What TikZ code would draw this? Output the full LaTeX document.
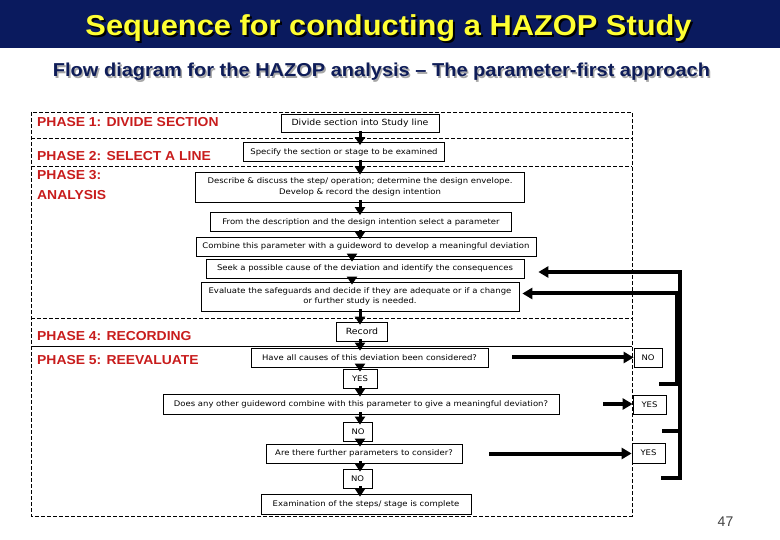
\documentclass[tikz,border=0pt]{standalone}
\usepackage{fontspec}
\setmainfont{Liberation Sans}
\newfontfamily\widefont{Liberation Sans}[FakeStretch=1.07,Ligatures=TeX]
\newfontfamily\boxfont{DejaVu Sans}[FakeStretch=1.1]
\usetikzlibrary{arrows.meta}
\definecolor{navy}{RGB}{10,26,94}
\definecolor{ttlyellow}{RGB}{255,255,50}
\definecolor{phred}{RGB}{200,28,28}
\definecolor{subnavy}{RGB}{14,28,88}
\newcommand\shadtxt[3]{\makebox[0pt][l]{\hspace{#2}\raisebox{-#2}{\textcolor{#1}{#3}}}#3}
\begin{document}
\begin{tikzpicture}[x=1pt,y=-1pt,
  box/.style={draw, line width=0.7pt, fill=white, inner sep=0pt, align=center,
    font=\boxfont\fontsize{7.7}{10.5}\selectfont},
  bigbox/.style={box, font=\boxfont\fontsize{8.5}{10}\selectfont},
  phase/.style={anchor=base west, text=phred, inner sep=0pt,
    font=\widefont\fontsize{13}{15}\selectfont\bfseries},
  divider/.style={dash pattern=on 4pt off 2pt, line width=0.6pt},
  flow/.style={line width=3pt, -{Triangle[width=10pt,length=8pt]},
    shorten <=-2pt, shorten >=-3pt},
  harrow/.style={line width=4pt, -{Triangle[width=11pt,length=10pt]}},
  fb/.style={line width=4pt, line join=miter, -{Triangle[width=11pt,length=10pt]}},
]
\useasboundingbox (0,0) rectangle (780,540);
% title bar
\fill[navy] (0,0) rectangle (780,48);
\node[anchor=base, inner sep=0pt, font=\widefont\fontsize{28.8}{32}\selectfont\bfseries, text=ttlyellow] (title) at (388.5,36)
  {\shadtxt{black}{2pt}{Sequence for conducting a HAZOP Study}};
\node[anchor=base, inner sep=0pt, font=\widefont\fontsize{18.7}{21}\selectfont\bfseries, text=subnavy] (subtitle) at (381.5,77)
  {\shadtxt{black!35}{1.5pt}{Flow diagram for the HAZOP analysis – The parameter-first approach}};

% frame and dividers
\draw[divider] (31,112) rectangle (632,516);
\draw[divider] (31,138) -- (632,138);
\draw[divider] (31,166.5) -- (632,166.5);
\draw[divider] (31,318) -- (632,318);
\draw[line width=0.6pt] (31,346) -- (632,346);

% phase labels
\node[phase] (p1) at (37,127) {PHASE 1: DIVIDE SECTION};
\node[phase] (p2) at (37,160.7) {PHASE 2: SELECT A LINE};
\node[phase] (p3) at (37,180) {PHASE 3:};
\node[phase] (p3b) at (37,199.3) {ANALYSIS};
\node[phase] (p4) at (37,340.7) {PHASE 4: RECORDING};
\node[phase] (p5) at (37,364) {PHASE 5: REEVALUATE};

% boxes
\node[bigbox, minimum width=158pt, minimum height=18pt] (b1) at (360,123.5) {Divide section into Study line};
\node[box, minimum width=201pt, minimum height=19pt] (b2) at (344,152) {Specify the section or stage to be examined};
\node[box, minimum width=329pt, minimum height=30pt] (b3) at (360,187) {Describe \& discuss the step/ operation; determine the design envelope.\\Develop \& record the design intention};
\node[box, minimum width=301pt, minimum height=19pt] (b4) at (361,222) {From the description and the design intention select a parameter};
\node[box, minimum width=340pt, minimum height=19pt] (b5) at (366,246.5) {Combine this parameter with a guideword to develop a meaningful deviation};
\node[box, minimum width=318pt, minimum height=19pt] (b6) at (365,268.5) {Seek a possible cause of the deviation and identify the consequences};
\node[box, minimum width=318pt, minimum height=29pt] (b7) at (360,296.5) {Evaluate the safeguards and decide if they are adequate or if a change\\or further study is needed.};
\node[bigbox, minimum width=51pt, minimum height=19pt] (rec) at (362,331.5) {Record};
\node[box, minimum width=237pt, minimum height=19pt] (have) at (369.5,357.5) {Have all causes of this deviation been considered?};
\node[box, minimum width=34pt, minimum height=19pt] (yes1) at (360,378.5) {YES};
\node[box, minimum width=396pt, minimum height=20pt] (does) at (361,404) {Does any other guideword combine with this parameter to give a meaningful deviation?};
\node[box, minimum width=29pt, minimum height=19pt] (no1) at (358,431.5) {NO};
\node[box, minimum width=196pt, minimum height=19pt] (are) at (364,453.5) {Are there further parameters to consider?};
\node[box, minimum width=29pt, minimum height=19pt] (no2) at (357.5,478.5) {NO};
\node[box, minimum width=210pt, minimum height=20pt] (exam) at (366,504) {Examination of the steps/ stage is complete};
\node[box, minimum width=28pt, minimum height=19pt] (rno) at (648,357.5) {NO};
\node[box, minimum width=33pt, minimum height=19pt] (ryes1) at (649.5,404.5) {YES};
\node[box, minimum width=33pt, minimum height=20pt] (ryes2) at (648.5,453) {YES};

% page number
\node[font=\fontsize{14}{16}\selectfont, text=black!75] (pg) at (725.5,522) {47};

% vertical flow arrows
\coordinate (ax) at (360,0);
\coordinate (bx) at (352,0);
\draw[flow] (b1.south -| ax) -- (b2.north -| ax);
\draw[flow] (b2.south -| ax) -- (b3.north -| ax);
\draw[flow] (b3.south -| ax) -- (b4.north -| ax);
\draw[flow] (b4.south -| ax) -- (b5.north -| ax);
\draw[flow] (b5.south -| bx) -- (b6.north -| bx);
\draw[flow] (b6.south -| bx) -- (b7.north -| bx);
\draw[flow] (b7.south -| ax) -- (rec.north -| ax);
\draw[flow] (rec.south -| ax) -- (have.north -| ax);
\draw[flow] (have.south -| ax) -- (yes1.north -| ax);
\draw[flow] (yes1.south -| ax) -- (does.north -| ax);
\draw[flow] (does.south -| ax) -- (no1.north -| ax);
\draw[flow] (no1.south -| ax) -- (are.north -| ax);
\draw[flow] (are.south -| ax) -- (no2.north -| ax);
\draw[flow] (no2.south -| ax) -- (exam.north -| ax);

% arrows to the right-hand answers
\draw[harrow, shorten <=24pt] (have.east) -- (have.east -| rno.west);
\draw[harrow, shorten <=44pt] (does.east) -- (does.east -| ryes1.west);
\draw[harrow, shorten <=27pt] (are.east) -- (are.east -| ryes2.west);

% feedback lines
\coordinate (s1) at (659,384);
\coordinate (s2) at (662,431);
\coordinate (s3) at (661,478);
\coordinate (railB) at (677,293.5);
\coordinate (railA) at (680,272);
\draw[fb, shorten >=3pt] (s1) -| (railB) -- (railB -| b7.east);
\draw[fb, shorten >=14pt] (s3) -| (railA) -- (railA -| b6.east);
\draw[line width=4pt] (s2) -- (s2 -| railA);
\end{tikzpicture}
\end{document}
